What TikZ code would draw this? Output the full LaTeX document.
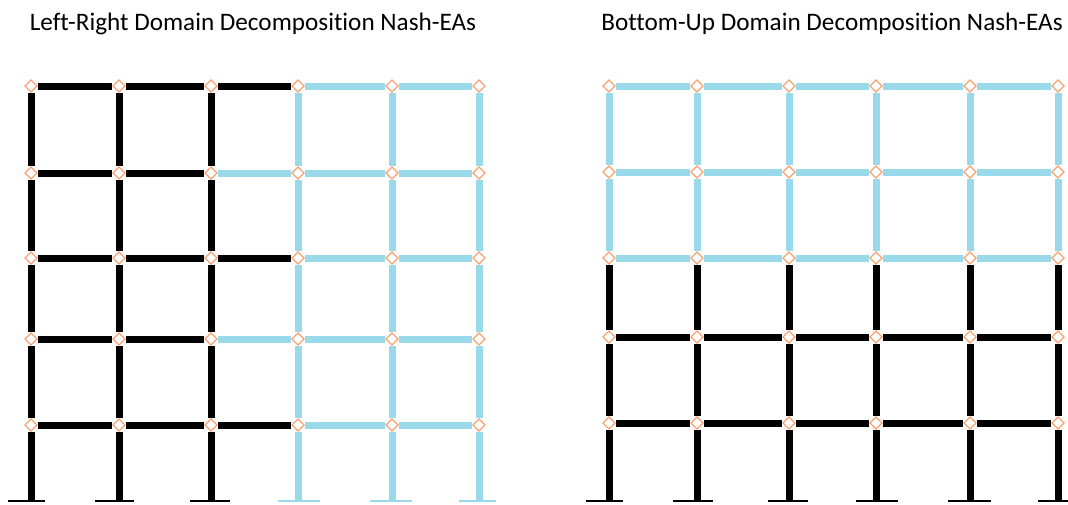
\documentclass[tikz,border=0pt]{standalone}
\usepackage{fontspec}
\setmainfont[Ligatures=NoCommon]{Carlito}
\usetikzlibrary{shapes.geometric}
\definecolor{memblue}{HTML}{9AD9EA}
\definecolor{hingeor}{HTML}{F8A070}
\tikzset{
  x=1pt,y=-1pt,
  hinge/.style={diamond,draw=hingeor,fill=white,line width=1.2pt,inner sep=0pt,minimum width=12.5pt,minimum height=12.5pt,outer sep=0.6pt},
  memb/.style={line width=7pt,line cap=butt},
  plate/.style={line width=1.5pt},
  title/.style={font=\fontsize{25.2}{30}\selectfont,anchor=center,inner sep=0pt}
}
\begin{document}
\begin{tikzpicture}
\useasboundingbox (0,0) rectangle (1068,504);
\node[title] (t1) at (253,24) {Left-Right Domain Decomposition Nash-EAs};
\node[title] (t2) at (832,24) {Bottom-Up Domain Decomposition Nash-EAs};
% left frame: base coordinates
\foreach \c/\x/\a/\b/\col in {1/31/8/45/black,2/119/95/134/black,3/211/190/229.5/black,4/298/278/320/memblue,5/392/370/412/memblue,6/479/459/496/memblue}{
  \foreach \r/\y in {1/86,2/173,3/258,4/339,5/425}{ \node[hinge] (L\c\r) at (\x,\y) {}; }
  \coordinate (Lb\c) at (\x,501);
  \coordinate (Lp\c) at (\a,501);
  \coordinate (Lq\c) at (\b,501);
  \draw[plate,draw=\col] (Lp\c) -- (Lq\c);
  \draw[memb,draw=\col] (L\c1) -- (L\c2);
  \draw[memb,draw=\col] (L\c2) -- (L\c3);
  \draw[memb,draw=\col] (L\c3) -- (L\c4);
  \draw[memb,draw=\col] (L\c4) -- (L\c5);
  \draw[memb,draw=\col] (L\c5) -- (Lb\c);
}
\foreach \r/\cc in {1/black,2/memblue,3/black,4/memblue,5/black}{
  \draw[memb,draw=black] (L1\r) -- (L2\r);
  \draw[memb,draw=black] (L2\r) -- (L3\r);
  \draw[memb,draw=\cc] (L3\r) -- (L4\r);
  \draw[memb,draw=memblue] (L4\r) -- (L5\r);
  \draw[memb,draw=memblue] (L5\r) -- (L6\r);
}
% right frame
\foreach \c/\x/\a/\b in {1/609/586/623,2/697/673/713,3/789/768/808,4/876/856/898,5/970/948/991,6/1058/1038/1078}{
  \foreach \r/\y in {1/86,2/172,3/258,4/337,5/423}{ \node[hinge] (R\c\r) at (\x,\y) {}; }
  \coordinate (Rb\c) at (\x,501);
  \coordinate (Rp\c) at (\a,501);
  \coordinate (Rq\c) at (\b,501);
  \draw[plate] (Rp\c) -- (Rq\c);
  \draw[memb,draw=memblue] (R\c1) -- (R\c2);
  \draw[memb,draw=memblue] (R\c2) -- (R\c3);
  \draw[memb,draw=black] (R\c3) -- (R\c4);
  \draw[memb,draw=black] (R\c4) -- (R\c5);
  \draw[memb,draw=black] (R\c5) -- (Rb\c);
}
\foreach \r/\cc in {1/memblue,2/memblue,3/memblue,4/black,5/black}{
  \draw[memb,draw=\cc] (R1\r) -- (R2\r);
  \draw[memb,draw=\cc] (R2\r) -- (R3\r);
  \draw[memb,draw=\cc] (R3\r) -- (R4\r);
  \draw[memb,draw=\cc] (R4\r) -- (R5\r);
  \draw[memb,draw=\cc] (R5\r) -- (R6\r);
}
\end{tikzpicture}
\end{document}
